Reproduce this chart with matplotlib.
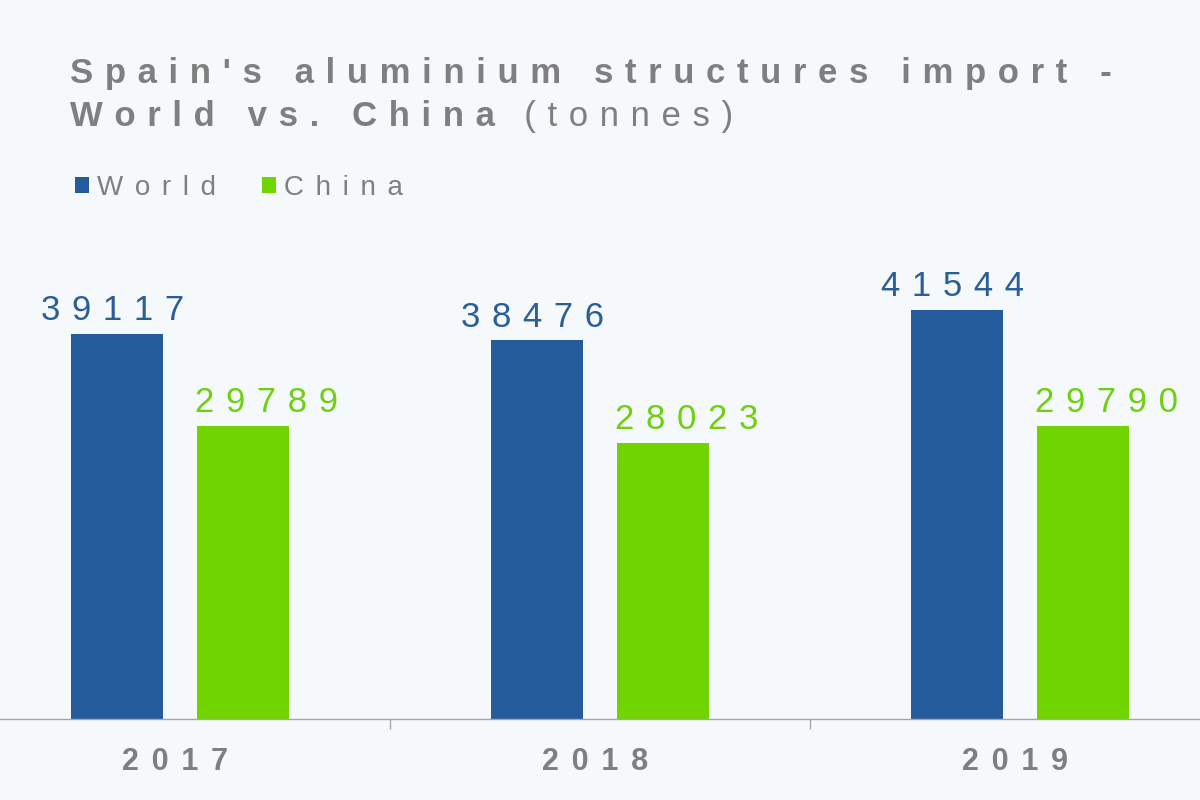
import numpy as np
import matplotlib
matplotlib.use("Agg")
import matplotlib.pyplot as plt

# === data ===
years = ["2017", "2018", "2019"]
world = [39117, 38476, 41544]
china = [29789, 28023, 29790]
series_names = ["World", "China"]

# === style ===
blue = "#245b9a"
green = "#6fd400"
blue_txt = "#2b5d97"
green_txt = "#6fcf10"
gray = "#7f7f7f"
axis_gray = "#a6a6a6"
bg = "#f6f9fc"
fam = ["Liberation Sans", "DejaVu Sans"]
SP = "\u2004"          # three-per-em space, used as letter spacing
SP_WIDE = "\u2005\u2006"  # a bit wider, for legend and year labels


def spaced(s, sep=SP):
    return sep.join(s)


plt.rcParams["font.family"] = fam

fig = plt.figure(figsize=(12, 8), dpi=100, facecolor=bg)
ax = fig.add_axes([-0.025, 0.10125, 1.05, 0.615])
ax.set_facecolor(bg)

x = np.arange(len(years))
off = 0.15
w = 0.22
b1 = ax.bar(x - off, world, w, color=blue, label=spaced(series_names[0], SP_WIDE))
b2 = ax.bar(x + off, china, w, color=green, label=spaced(series_names[1], SP_WIDE))
ax.set_xlim(-0.5, len(years) - 0.5)
ax.set_ylim(0, 50000)

# value labels
for i in range(len(years)):
    ax.annotate(spaced(str(world[i])), (x[i] - off, world[i]), xytext=(-3, 10),
                textcoords="offset points", ha="center", va="baseline",
                fontsize=25, color=blue_txt)
    ax.annotate(spaced(str(china[i])), (x[i] + off, china[i]), xytext=(17, 10),
                textcoords="offset points", ha="center", va="baseline",
                fontsize=25, color=green_txt)

# axes look
for s in ["top", "left", "right"]:
    ax.spines[s].set_visible(False)
ax.spines["bottom"].set_color(axis_gray)
ax.spines["bottom"].set_linewidth(1)
ax.set_yticks([])
ax.set_xticks(x)
# trailing space nudges the centred year a little to the left, like the original
ax.set_xticklabels([spaced(y, SP_WIDE) + SP for y in years], fontsize=22,
                   fontweight="bold", color=gray)
ax.tick_params(axis="x", which="major", length=0, pad=20)
ax.set_xticks(np.arange(-0.5, len(years), 1.0), minor=True)
ax.tick_params(axis="x", which="minor", length=7, width=1, color=axis_gray, direction="out")

# title
fig.text(70 / 1200, 1 - 83 / 800, spaced("Spain's aluminium structures import -"),
         fontsize=25, fontweight="bold", color=gray, va="baseline")
t2 = fig.text(70 / 1200, 1 - 126 / 800, spaced("World vs. China"),
              fontsize=25, fontweight="bold", color=gray, va="baseline")
r = fig.canvas.get_renderer()
x1 = t2.get_window_extent(renderer=r).x1
fig.text((x1 + 8) / 1200, 1 - 126 / 800, spaced(" (tonnes)"),
         fontsize=25, color=gray, va="baseline")

# legend
fig.legend(handles=[b1, b2], loc="upper left", bbox_to_anchor=(75 / 1200, 1 - 175 / 800),
           ncol=2, frameon=False, fontsize=20, labelcolor=gray,
           handlelength=0.5, handleheight=0.5, handletextpad=0.3,
           columnspacing=1.65, borderpad=0, borderaxespad=0)

fig.savefig("out.png", dpi=100, facecolor=bg)
